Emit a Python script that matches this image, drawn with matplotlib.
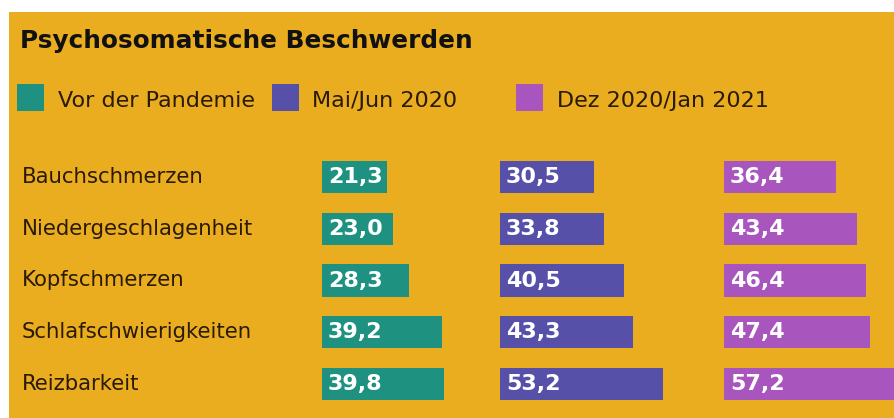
import matplotlib
matplotlib.use("Agg")
import matplotlib.pyplot as plt
from matplotlib.patches import Rectangle
import matplotlib.transforms as mtransforms

categories = ["Bauchschmerzen", "Niedergeschlagenheit", "Kopfschmerzen",
              "Schlafschwierigkeiten", "Reizbarkeit"]
series_names = ["Vor der Pandemie", "Mai/Jun 2020", "Dez 2020/Jan 2021"]
vor = [21.3, 23.0, 28.3, 39.2, 39.8]
mai = [30.5, 33.8, 40.5, 43.3, 53.2]
dez = [36.4, 43.4, 46.4, 47.4, 57.2]
series = [vor, mai, dez]

BG = "#E9AD1F"
COLORS = ["#1F9180", "#5650A9", "#A855BD"]
TXT = "#2A1A08"
FONT = "DejaVu Sans"

W, H = 894, 418
fig = plt.figure(figsize=(W / 100, H / 100), dpi=100)
fig.patch.set_facecolor("white")
fig.patches.append(Rectangle((9 / W, 0), 1, 1 - 12 / H, transform=fig.transFigure,
                             facecolor=BG, edgecolor="none", zorder=-10))

def fx(px):
    return px / W

def fy(py):
    return 1 - py / H

# title
fig.text(fx(20), fy(48), "Psychosomatische Beschwerden", fontsize=17.8,
         fontweight="bold", color="#111", family=FONT, va="baseline")

# legend
leg_sq_x = [17, 272, 516]
leg_tx_x = [58, 312, 557]
for i, name in enumerate(series_names):
    fig.patches.append(Rectangle((fx(leg_sq_x[i]), fy(111)), 27 / W, 27 / H,
                                 transform=fig.transFigure, facecolor=COLORS[i],
                                 edgecolor="none"))
    fig.text(fx(leg_tx_x[i]), fy(107), name, fontsize=16, color=TXT,
             family=FONT, va="baseline")

# bar axes
scale = 3.07  # px per unit
col_x = [322, 500, 724]
ax_w = 200
row_sp = 51.75
top = 177 - row_sp / 2
for k, vals in enumerate(series):
    ax = fig.add_axes([fx(col_x[k]), fy(top + 5 * row_sp), ax_w / W, 5 * row_sp / H])
    ax.set_xlim(0, ax_w / scale)
    ax.set_ylim(4.5, -0.5)
    ax.axis("off")
    ax.patch.set_alpha(0)
    ys = list(range(len(categories)))
    ax.barh(ys, vals, height=0.62, color=COLORS[k], edgecolor="none")
    for y, v in zip(ys, vals):
        ax.annotate(f"{v:.1f}".replace(".", ","), xy=(0, y), xytext=(4.2, 0),
                    textcoords="offset points", color="white", fontsize=16,
                    fontweight="bold", family=FONT, va="center", ha="left")
    if k == 0:
        trans = mtransforms.blended_transform_factory(fig.transFigure, ax.transData)
        for y, c in zip(ys, categories):
            ax.text(fx(22), y, c, transform=trans, fontsize=15.3, color=TXT,
                    family=FONT, va="center", ha="left", clip_on=False)

fig.savefig("out.png", dpi=100, facecolor=fig.get_facecolor())
